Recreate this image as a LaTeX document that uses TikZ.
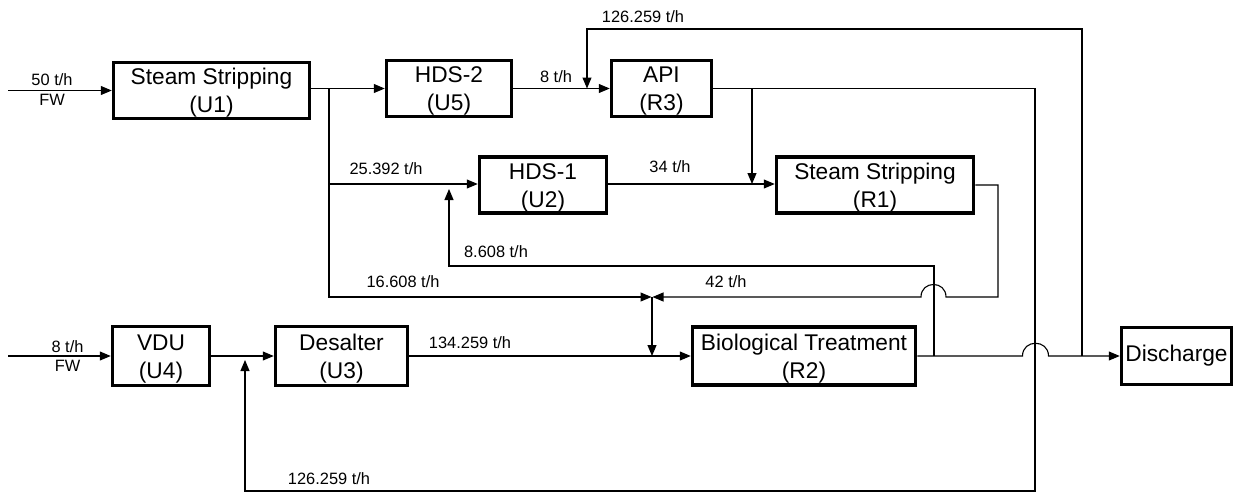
\documentclass[tikz,border=0pt]{standalone}
\usepackage{fontspec}
\setmainfont{Liberation Sans}
\usetikzlibrary{arrows.meta}
\newcommand{\boxfnt}{\fontsize{22.7}{28}\selectfont}
\newcommand{\lblfnt}{\fontsize{16.4}{19}\selectfont}
\newcommand{\twolines}[2]{\raisebox{-2.5pt}[\height][\depth]{\begin{tabular}{@{}c@{}}#1\\#2\end{tabular}}}
\tikzset{
 unitbox/.style={draw, line width=3.5pt, align=center, font=\boxfnt, inner sep=0pt, minimum height=56pt},
 lbl/.style={font=\lblfnt, inner sep=0pt},
 flow/.style={line width=1.1pt},
 arr/.style={flow, -{Triangle[length=11pt,width=9pt]}},
}
\begin{document}
\begin{tikzpicture}[x=1pt,y=-1pt]
\useasboundingbox (0,0) rectangle (1234,493);
% units
\node[unitbox, minimum width=196pt] (U1) at (211.5,90.5) {\twolines{Steam Stripping}{(U1)}};
\node[unitbox, minimum width=125pt] (U5) at (449,88.5) {\twolines{HDS-2}{(U5)}};
\node[unitbox, minimum width=100pt] (R3) at (661.5,88.5) {\twolines{API}{(R3)}};
\node[unitbox, minimum width=127pt] (U2) at (543,185) {\twolines{HDS-1}{(U2)}};
\node[unitbox, minimum width=197pt] (R1) at (875,185) {\twolines{Steam Stripping}{(R1)}};
\node[unitbox, minimum width=97pt, minimum height=59pt] (U4) at (161,356) {\twolines{VDU}{(U4)}};
\node[unitbox, minimum width=132pt, minimum height=59pt] (U3) at (341.5,356) {\twolines{Desalter}{(U3)}};
\node[unitbox, minimum width=223pt, minimum height=58pt] (R2) at (804,356) {\twolines{Biological Treatment}{(R2)}};
\node[unitbox, minimum width=110pt, minimum height=57pt] (D) at (1176.5,356) {Discharge};
% coordinates
\coordinate (in1) at (8,90.5);
\coordinate (in2) at (8,356);
\coordinate (s1) at (329,88.5);
\coordinate (s1b) at (329,184);
\coordinate (m) at (652,297);
\coordinate (m1) at (651.5,297);
\coordinate (m2) at (652.5,297);
\coordinate (mb) at (652,356);
\coordinate (j3) at (752,88.5);
\coordinate (j3b) at (752,184);
\coordinate (tj) at (587,88.5);
\coordinate (tl) at (1082,356);
\coordinate (b1) at (934,356);
\coordinate (j2) at (449,189);
\coordinate (j4) at (245,360);
% connectors
\draw[arr] (in1) -- (U1.west);
\draw[arr] (U1.east |- U5.west) -- (U5.west);
\draw[arr] (U5.east) -- (R3.west);
\draw[arr] (s1b) -- (s1b -| U2.west);
\draw[arr] (U2.east |- s1b) -- (s1b -| R1.west);
\draw[flow] (s1) -- (s1b);
\draw[arr] (s1b) -- (329,297) -- (m1);
\draw[arr] (j3) -- (j3b);
\draw[arr] (R1.east) -- (998,185) -- (998,297) -- (946,297)
  .. controls (946,280.3) and (921,280.3) .. (921,297) -- (m2);
\draw[arr] (m) -- (mb);
\draw[arr] (in2) -- (U4.west);
\draw[arr] (U4.east) -- (U3.west);
\draw[arr] (U3.east) -- (R2.west);
\draw[arr] (R2.east) -- (1022.5,356)
  .. controls (1022.5,339) and (1048.5,339) .. (1048.5,356) -- (D.west);
\draw[arr] (tl) -- (1082,29) -- (587,29) -- (tj);
\draw[arr] (R3.east) -- (1035,88.5) -- (1035,491) -- (245,491) -- (j4);
\draw[arr] (b1) -- (934,266) -- (449,266) -- (j2);
% labels
\node[lbl] (l1) at (52,80) {50 t/h};
\node[lbl] (l2) at (52,100) {FW};
\node[lbl] (l3) at (67.5,347) {8 t/h};
\node[lbl] (l4) at (67.5,366) {FW};
\node[lbl] (l5) at (556,77) {8 t/h};
\node[lbl] (l6) at (643,17) {126.259 t/h};
\node[lbl] (l7) at (386,169) {25.392 t/h};
\node[lbl] (l8) at (670,167) {34 t/h};
\node[lbl] (l9) at (496,252) {8.608 t/h};
\node[lbl] (l10) at (403,282) {16.608 t/h};
\node[lbl] (l11) at (726,282) {42 t/h};
\node[lbl] (l12) at (470,343) {134.259 t/h};
\node[lbl] (l13) at (329,479) {126.259 t/h};
\end{tikzpicture}
\end{document}
